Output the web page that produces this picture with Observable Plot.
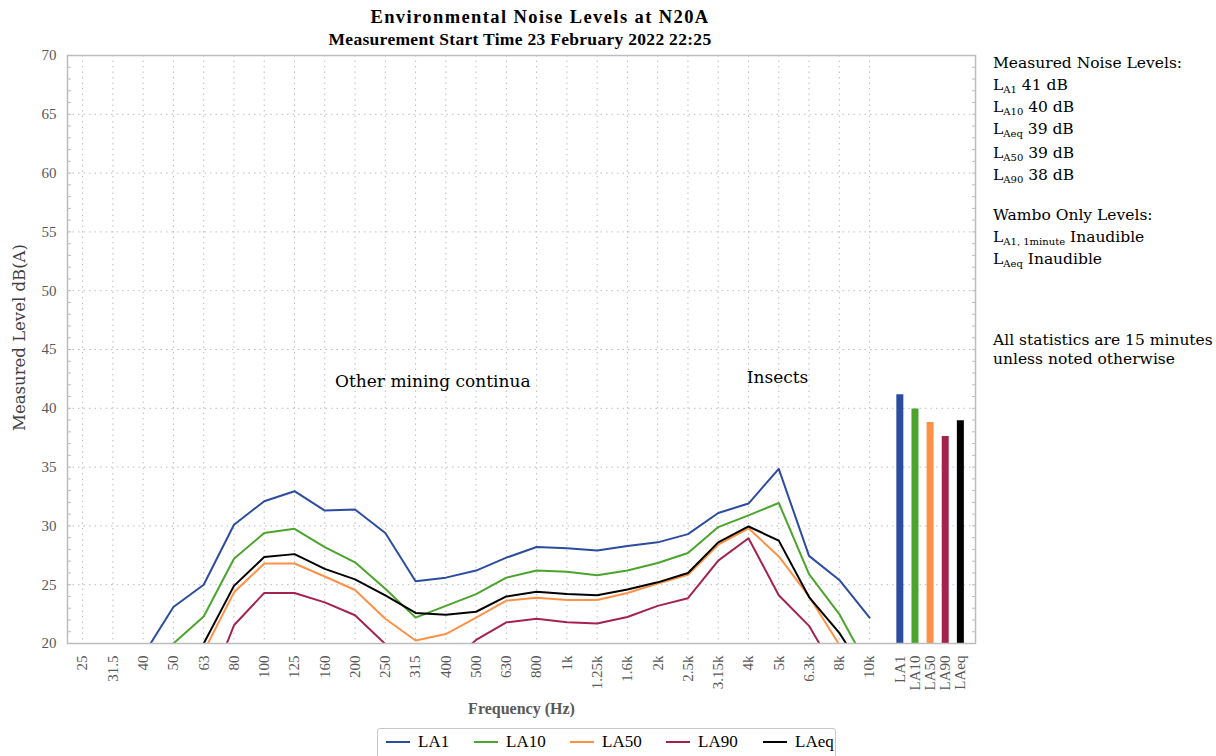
<!DOCTYPE html>
<html><head><meta charset="utf-8">
<script src="https://cdn.jsdelivr.net/npm/d3@7"></script>
<script src="https://cdn.jsdelivr.net/npm/@observablehq/plot@0.6"></script>
<style>
body{margin:0;background:#fff;font-family:"Liberation Serif",serif;color:#000;}
#wrap{position:relative;width:1216px;height:756px;overflow:hidden;background:#fff;}
.t{position:absolute;left:0;text-align:center;font-weight:bold;white-space:nowrap;z-index:2;}
#chart{position:absolute;left:0;top:35px;z-index:1;}
#side{position:absolute;left:993px;top:52px;font-family:"DejaVu Serif",serif;font-size:15.5px;line-height:22px;white-space:nowrap;}
#side sub{font-size:10px;vertical-align:-3px;line-height:0;}
#legend{position:absolute;left:377px;top:728px;width:459px;height:34px;border:1px solid #c8c8c8;border-radius:3px;box-sizing:border-box;font-size:17px;}
#legend .it{position:absolute;top:0;height:26px;display:flex;align-items:center;gap:8px;}
#legend .sw{width:24px;height:2px;}
</style></head>
<body><div id="wrap">
<div class="t" style="top:7px;width:1080px;font-size:18.5px;letter-spacing:1.4px">Environmental Noise Levels at N20A</div>
<div class="t" style="top:29px;width:1040px;font-size:17.5px;letter-spacing:0.3px">Measurement Start Time 23 February 2022 22:25</div>
<div id="chart"></div>
<div id="side"></div>
<div id="legend"></div>
</div>
<script>
const freqs = ["25","31.5","40","50","63","80","100","125","160","200","250","315","400","500","630","800","1k","1.25k","1.6k","2k","2.5k","3.15k","4k","5k","6.3k","8k","10k"];
const seriesNames = ["LA1","LA10","LA50","LA90","LAeq"];
const seriesColors = ["#2b4c9f","#4ba42b","#ff9147","#a4234d","#000000"];
const LA1  = [null,null,19.0,23.1,25.0,30.1,32.1,32.95,31.3,31.4,29.4,25.3,25.6,26.2,27.3,28.2,28.1,27.9,28.3,28.6,29.3,31.1,31.9,34.85,27.45,25.4,22.2];
const LA10 = [null,null,null,20.0,22.3,27.2,29.4,29.75,28.2,26.9,24.65,22.2,23.2,24.2,25.6,26.2,26.1,25.8,26.2,26.85,27.7,29.9,30.9,31.95,25.9,22.5,17.8];
const LA50 = [null,null,null,null,19.3,24.35,26.8,26.8,25.7,24.55,22.1,20.25,20.8,22.2,23.65,23.9,23.7,23.7,24.3,25.1,25.85,28.4,29.8,27.4,24.0,19.9,16.0];
const LA90 = [null,null,null,null,15.0,21.55,24.3,24.3,23.5,22.4,19.95,17.5,18.0,20.3,21.8,22.1,21.8,21.7,22.25,23.2,23.85,27.05,28.95,24.1,21.5,17.1,null];
const LAeq = [null,null,null,null,20.0,24.9,27.35,27.6,26.35,25.45,24.1,22.6,22.45,22.7,24.0,24.4,24.2,24.1,24.6,25.2,26.0,28.6,29.95,28.75,23.95,20.9,16.9];
const barLabels = ["LA1","LA10","LA50","LA90","LAeq"];
const barValues = [41.15,39.95,38.8,37.6,38.95];
const yTicks = [20,25,30,35,40,45,50,55,60,65,70];
const annoLabels = ["Other mining continua","Insects"];
const annoX = [11.57,22.96];
const annoY = [42.3,42.6];

const seriesValues = [LA1,LA10,LA50,LA90,LAeq];
const freqPos = freqs.map((f,i)=>i);
const barPos = barLabels.map((b,j)=>freqs.length + j*0.5);
const labelMap = new Map([...freqPos.map((p,i)=>[p,freqs[i]]), ...barPos.map((p,j)=>[p,barLabels[j]])]);
const lineData = seriesNames.flatMap((s,k)=>seriesValues[k].map((v,i)=>({x:i,y:v,s})));
const barData = barLabels.map((b,j)=>({x:barPos[j],y:barValues[j],s:b}));
const minor = d3.range(20,71);

const chart = Plot.plot({
  width:1216, height:687,
  marginLeft:67, marginRight:241, marginTop:20, marginBottom:79,
  style:{fontFamily:"'Liberation Serif', serif", fontSize:"15px", color:"#595959", background:"transparent"},
  x:{type:"linear", domain:[-0.5, barPos[barPos.length-1]+0.5]},
  y:{domain:[20,70]},
  color:{domain:seriesNames, range:seriesColors},
  marks:[
    Plot.gridY(yTicks.slice(1,-1), {stroke:"#bdbdbd", strokeOpacity:1, strokeDasharray:"1.5,4"}),
    Plot.gridX(freqPos, {stroke:"#bdbdbd", strokeOpacity:1, strokeDasharray:"1.5,4"}),
    Plot.line(lineData, {x:"x", y:"y", z:"s", stroke:"s", strokeWidth:2, clip:true}),
    Plot.ruleX(barData, {x:"x", y1:20, y2:"y", stroke:"s", strokeWidth:7}),
    Plot.frame({stroke:"#bcbcbc", strokeWidth:1.5}),
    Plot.axisY(yTicks, {tickSize:0, tickPadding:11, label:null, fontSize:15}),
    Plot.axisY(minor, {text:null, tickSize:4, dx:4, label:null, stroke:"#bcbcbc"}),
    Plot.axisY(minor, {anchor:"right", text:null, tickSize:4, dx:-4, label:null, stroke:"#bcbcbc"}),
    Plot.axisX([...freqPos, ...barPos], {tickFormat:d=>labelMap.get(d), tickRotate:-90, tickSize:0, tickPadding:12, label:null, fontSize:15}),
    Plot.text(["Frequency (Hz)"], {frameAnchor:"bottom", dy:70, fontWeight:"bold", fill:"#595959", fontSize:16}),
    Plot.text(["Measured Level dB(A)"], {frameAnchor:"left", rotate:-90, textAnchor:"middle", dx:-48, dy:-12, fill:"#404040", fontSize:16.5, fontFamily:"'DejaVu Serif', serif"}),
    Plot.text(annoLabels, {x:(d,i)=>annoX[i], y:(d,i)=>annoY[i], text:d=>d, fill:"#000", fontSize:17, fontFamily:"'DejaVu Serif', serif"})
  ]
});
document.getElementById("chart").appendChild(chart);

const side = document.getElementById("side");
side.innerHTML = `Measured Noise Levels:<br>
L<sub>A1</sub> 41 dB<br>
L<sub>A10</sub> 40 dB<br>
L<sub>Aeq</sub> 39 dB<br>
<div style="margin-top:2px">L<sub>A50</sub> 39 dB</div>
L<sub>A90</sub> 38 dB<br>
<div style="margin-top:18px">Wambo Only Levels:</div>
L<sub>A1, 1minute</sub> Inaudible<br>
L<sub>Aeq</sub> Inaudible<br>
<div style="margin-top:61px;line-height:19px">All statistics are 15 minutes<br>unless noted otherwise</div>`;

const legend = document.getElementById("legend");
const legendLeft = [8, 96, 192, 288, 385];
seriesNames.forEach((s,k)=>{
  const it = document.createElement("div"); it.className="it"; it.style.left = legendLeft[k]+"px";
  it.innerHTML = `<div class="sw" style="background:${seriesColors[k]}"></div><span>${s}</span>`;
  legend.appendChild(it);
});
</script>
</body></html>
